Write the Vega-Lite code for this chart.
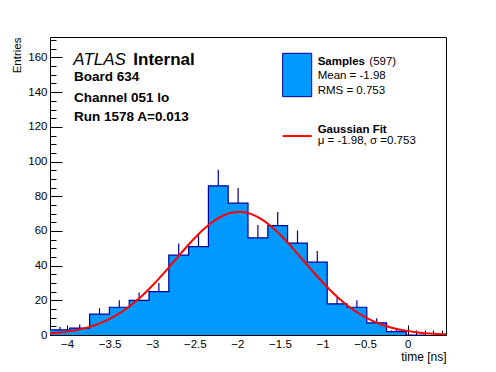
{
  "$schema": "https://vega.github.io/schema/vega-lite/v6.json",
  "width": 396,
  "height": 298,
  "autosize": "none",
  "padding": {"left": 50, "top": 37, "right": 50, "bottom": 37},
  "background": "white",
  "config": {"view": {"stroke": "black", "strokeWidth": 1}, "font": "Liberation Sans"},
  "resolve": {"axis": {"x": "independent", "y": "independent"}},
  "datasets": {
    "hist": [
      {"x0": -4.2, "x1": -3.9675, "mid": -4.08375, "count": 3, "hi": 4.73},
      {"x0": -3.9675, "x1": -3.735, "mid": -3.85125, "count": 4, "hi": 6},
      {"x0": -3.735, "x1": -3.5025, "mid": -3.61875, "count": 12, "hi": 15.46},
      {"x0": -3.5025, "x1": -3.27, "mid": -3.38625, "count": 16, "hi": 20},
      {"x0": -3.27, "x1": -3.0375, "mid": -3.15375, "count": 20, "hi": 24.47},
      {"x0": -3.0375, "x1": -2.805, "mid": -2.92125, "count": 25, "hi": 30},
      {"x0": -2.805, "x1": -2.5725, "mid": -2.68875, "count": 46, "hi": 52.78},
      {"x0": -2.5725, "x1": -2.34, "mid": -2.45625, "count": 51, "hi": 58.14},
      {"x0": -2.34, "x1": -2.1075, "mid": -2.22375, "count": 86, "hi": 95.27},
      {"x0": -2.1075, "x1": -1.875, "mid": -1.99125, "count": 76, "hi": 84.72},
      {"x0": -1.875, "x1": -1.6425, "mid": -1.75875, "count": 56, "hi": 63.48},
      {"x0": -1.6425, "x1": -1.41, "mid": -1.52625, "count": 63, "hi": 70.94},
      {"x0": -1.41, "x1": -1.1775, "mid": -1.29375, "count": 53, "hi": 60.28},
      {"x0": -1.1775, "x1": -0.945, "mid": -1.06125, "count": 42, "hi": 48.48},
      {"x0": -0.945, "x1": -0.7125, "mid": -0.82875, "count": 18, "hi": 22.24},
      {"x0": -0.7125, "x1": -0.48, "mid": -0.59625, "count": 16, "hi": 20},
      {"x0": -0.48, "x1": -0.2475, "mid": -0.36375, "count": 7, "hi": 9.65},
      {"x0": -0.2475, "x1": -0.015, "mid": -0.13125, "count": 2, "hi": 3.41},
      {"x0": -0.015, "x1": 0.2175, "mid": 0.10125, "count": 0, "hi": 0},
      {"x0": 0.2175, "x1": 0.45, "mid": 0.33375, "count": 0, "hi": 0}
    ],
    "fit": [
      {"t": -4.2, "f": 0.92}, {"t": -4.1, "f": 1.35}, {"t": -4.0, "f": 1.94}, {"t": -3.9, "f": 2.75},
      {"t": -3.8, "f": 3.83}, {"t": -3.7, "f": 5.23}, {"t": -3.6, "f": 7.02}, {"t": -3.5, "f": 9.26},
      {"t": -3.4, "f": 12.0}, {"t": -3.3, "f": 15.27}, {"t": -3.2, "f": 19.11}, {"t": -3.1, "f": 23.49},
      {"t": -3.0, "f": 28.37}, {"t": -2.9, "f": 33.66}, {"t": -2.8, "f": 39.24}, {"t": -2.7, "f": 44.95},
      {"t": -2.6, "f": 50.59}, {"t": -2.5, "f": 55.93}, {"t": -2.4, "f": 60.77}, {"t": -2.3, "f": 64.87},
      {"t": -2.2, "f": 68.03}, {"t": -2.1, "f": 70.11}, {"t": -2.0, "f": 70.98}, {"t": -1.98, "f": 71.0},
      {"t": -1.9, "f": 70.6}, {"t": -1.8, "f": 69.0}, {"t": -1.7, "f": 66.26}, {"t": -1.6, "f": 62.52},
      {"t": -1.5, "f": 57.94}, {"t": -1.4, "f": 52.78}, {"t": -1.3, "f": 47.22}, {"t": -1.2, "f": 41.52},
      {"t": -1.1, "f": 35.87}, {"t": -1.0, "f": 30.44}, {"t": -0.9, "f": 25.38}, {"t": -0.8, "f": 20.8},
      {"t": -0.7, "f": 16.74}, {"t": -0.6, "f": 13.24}, {"t": -0.5, "f": 10.29}, {"t": -0.4, "f": 7.86},
      {"t": -0.3, "f": 5.89}, {"t": -0.2, "f": 4.35}, {"t": -0.1, "f": 3.15}, {"t": 0.0, "f": 2.24},
      {"t": 0.1, "f": 1.56}, {"t": 0.2, "f": 1.07}, {"t": 0.3, "f": 0.73}, {"t": 0.4, "f": 0.48},
      {"t": 0.45, "f": 0.39}
    ]
  },
  "layer": [
    {
      "data": {"name": "hist"},
      "mark": {"type": "area", "interpolate": "step-after", "color": "#0099ff", "opacity": 1},
      "encoding": {
        "x": {
          "field": "x0", "type": "quantitative",
          "scale": {"domain": [-4.2, 0.45], "nice": false, "zero": false},
          "axis": {
            "orient": "bottom",
            "values": [-4, -3.5, -3, -2.5, -2, -1.5, -1, -0.5, 0],
            "format": "~g",
            "tickSize": -10, "tickColor": "black", "tickWidth": 1, "domain": false, "grid": false,
            "labelFont": "Liberation Sans", "labelFontSize": 11.5, "labelColor": "black", "labelPadding": 13,
            "labelFlush": false, "labelOverlap": false,
            "title": "time [ns]", "titleFont": "Liberation Sans", "titleFontSize": 12, "titleFontWeight": "normal", "titleColor": "black",
            "titleAnchor": "end", "titleAlign": "right", "titleBaseline": "alphabetic", "titleX": 396, "titleY": 25
          }
        },
        "y": {
          "field": "count", "type": "quantitative",
          "scale": {"domain": [0, 171.8], "nice": false},
          "axis": {
            "orient": "left",
            "values": [0, 20, 40, 60, 80, 100, 120, 140, 160],
            "tickSize": -12, "tickColor": "black", "tickWidth": 1, "domain": false, "grid": false,
            "labelFont": "Liberation Sans", "labelFontSize": 11.5, "labelColor": "black", "labelPadding": 15,
            "labelFlush": false, "labelOverlap": false,
            "title": "Entries", "titleFont": "Liberation Sans", "titleFontSize": 11.5, "titleFontWeight": "normal", "titleColor": "black",
            "titleAngle": 270, "titleAlign": "right", "titleBaseline": "alphabetic", "titleX": -30, "titleY": 0
          }
        }
      }
    },
    {
      "data": {"name": "hist"},
      "mark": {"type": "line", "interpolate": "step-after", "color": "#000099", "strokeWidth": 1.2},
      "encoding": {
        "x": {
          "field": "x0", "type": "quantitative",
          "axis": {
            "orient": "bottom",
            "values": [-4.2, -4.1, -4.0, -3.9, -3.8, -3.7, -3.6, -3.5, -3.4, -3.3, -3.2, -3.1, -3.0, -2.9, -2.8, -2.7, -2.6, -2.5, -2.4, -2.3, -2.2, -2.1, -2.0, -1.9, -1.8, -1.7, -1.6, -1.5, -1.4, -1.3, -1.2, -1.1, -1.0, -0.9, -0.8, -0.7, -0.6, -0.5, -0.4, -0.3, -0.2, -0.1, 0.0, 0.1, 0.2, 0.3, 0.4],
            "labels": false, "tickSize": -5, "tickColor": "black", "tickWidth": 1, "domain": false, "grid": false, "title": null
          }
        },
        "y": {
          "field": "count", "type": "quantitative",
          "axis": {
            "orient": "left",
            "values": [0, 5, 10, 15, 20, 25, 30, 35, 40, 45, 50, 55, 60, 65, 70, 75, 80, 85, 90, 95, 100, 105, 110, 115, 120, 125, 130, 135, 140, 145, 150, 155, 160, 165, 170],
            "labels": false, "tickSize": -6, "tickColor": "black", "tickWidth": 1, "domain": false, "grid": false, "title": null
          }
        }
      }
    },
    {
      "data": {"name": "hist"},
      "mark": {"type": "rule", "color": "#000099", "strokeWidth": 1.2},
      "encoding": {
        "x": {"field": "mid", "type": "quantitative", "axis": null},
        "y": {"field": "count", "type": "quantitative", "axis": null},
        "y2": {"field": "hi"}
      }
    },
    {
      "data": {"name": "fit"},
      "mark": {"type": "line", "color": "#ff0000", "strokeWidth": 2, "interpolate": "monotone"},
      "encoding": {
        "x": {"field": "t", "type": "quantitative", "axis": null},
        "y": {"field": "f", "type": "quantitative", "axis": null}
      }
    },
    {
      "data": {"values": [{}]},
      "mark": {"type": "rect", "fill": "#0099ff", "stroke": "#000099", "strokeWidth": 1},
      "encoding": {
        "x": {"datum": -1.468, "axis": null}, "x2": {"datum": -1.127},
        "y": {"datum": 162.4, "axis": null}, "y2": {"datum": 137.4}
      }
    },
    {
      "data": {"values": [{}]},
      "mark": {"type": "rule", "color": "#ff0000", "strokeWidth": 2},
      "encoding": {
        "x": {"datum": -1.468, "axis": null}, "x2": {"datum": -1.127},
        "y": {"datum": 114.7, "axis": null}
      }
    },
    {
      "data": {"values": [{}]},
      "mark": {"type": "text", "text": "ATLAS", "font": "Liberation Sans", "fontSize": 17, "fontStyle": "italic", "align": "left", "baseline": "alphabetic", "color": "black"},
      "encoding": {"x": {"datum": -3.926, "axis": null}, "y": {"datum": 155.7, "axis": null}}
    },
    {
      "data": {"values": [{}]},
      "mark": {"type": "text", "text": "Internal", "font": "Liberation Sans", "fontSize": 17, "fontWeight": "bold", "align": "left", "baseline": "alphabetic", "color": "black"},
      "encoding": {"x": {"datum": -3.222, "axis": null}, "y": {"datum": 155.7, "axis": null}}
    },
    {
      "data": {"values": [{}]},
      "mark": {"type": "text", "text": "Board 634", "font": "Liberation Sans", "fontSize": 13.5, "fontWeight": "bold", "align": "left", "baseline": "alphabetic", "color": "black"},
      "encoding": {"x": {"datum": -3.918, "axis": null}, "y": {"datum": 146.6, "axis": null}}
    },
    {
      "data": {"values": [{}]},
      "mark": {"type": "text", "text": "Channel 051 lo", "font": "Liberation Sans", "fontSize": 13.5, "fontWeight": "bold", "align": "left", "baseline": "alphabetic", "color": "black"},
      "encoding": {"x": {"datum": -3.918, "axis": null}, "y": {"datum": 134.5, "axis": null}}
    },
    {
      "data": {"values": [{}]},
      "mark": {"type": "text", "text": "Run 1578 A=0.013", "font": "Liberation Sans", "fontSize": 13.5, "fontWeight": "bold", "align": "left", "baseline": "alphabetic", "color": "black"},
      "encoding": {"x": {"datum": -3.918, "axis": null}, "y": {"datum": 123.4, "axis": null}}
    },
    {
      "data": {"values": [{}]},
      "mark": {"type": "text", "text": "Samples", "font": "Liberation Sans", "fontSize": 11.5, "fontWeight": "bold", "align": "left", "baseline": "alphabetic", "color": "black"},
      "encoding": {"x": {"datum": -1.057, "axis": null}, "y": {"datum": 155.7, "axis": null}}
    },
    {
      "data": {"values": [{}]},
      "mark": {"type": "text", "text": "(597)", "font": "Liberation Sans", "fontSize": 11.5, "align": "left", "baseline": "alphabetic", "color": "black"},
      "encoding": {"x": {"datum": -0.45, "axis": null}, "y": {"datum": 155.7, "axis": null}}
    },
    {
      "data": {"values": [{}]},
      "mark": {"type": "text", "text": "Mean = -1.98", "font": "Liberation Sans", "fontSize": 11.5, "align": "left", "baseline": "alphabetic", "color": "black"},
      "encoding": {"x": {"datum": -1.057, "axis": null}, "y": {"datum": 147.4, "axis": null}}
    },
    {
      "data": {"values": [{}]},
      "mark": {"type": "text", "text": "RMS = 0.753", "font": "Liberation Sans", "fontSize": 11.5, "align": "left", "baseline": "alphabetic", "color": "black"},
      "encoding": {"x": {"datum": -1.057, "axis": null}, "y": {"datum": 138.9, "axis": null}}
    },
    {
      "data": {"values": [{}]},
      "mark": {"type": "text", "text": "Gaussian Fit", "font": "Liberation Sans", "fontSize": 11.5, "fontWeight": "bold", "align": "left", "baseline": "alphabetic", "color": "black"},
      "encoding": {"x": {"datum": -1.057, "axis": null}, "y": {"datum": 116.6, "axis": null}}
    },
    {
      "data": {"values": [{}]},
      "mark": {"type": "text", "text": "μ = -1.98, σ =0.753", "font": "Liberation Sans", "fontSize": 11.5, "align": "left", "baseline": "alphabetic", "color": "black"},
      "encoding": {"x": {"datum": -1.057, "axis": null}, "y": {"datum": 110.3, "axis": null}}
    }
  ]
}
